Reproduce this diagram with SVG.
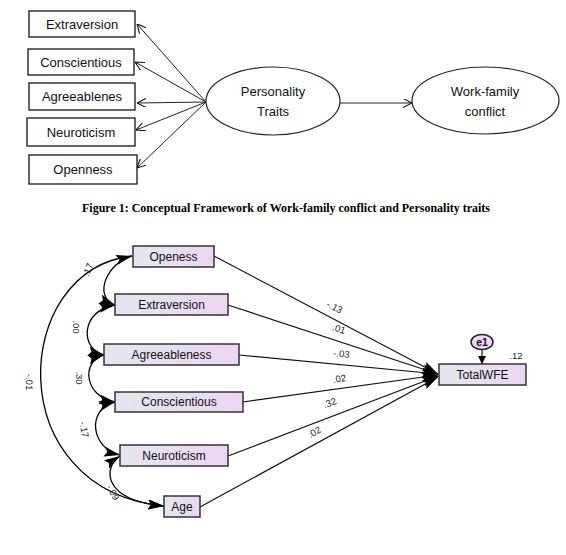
<svg xmlns="http://www.w3.org/2000/svg" width="566" height="555" viewBox="0 0 566 555">
<defs>
<marker id="open" viewBox="0 0 10 10" refX="10" refY="5" markerWidth="9" markerHeight="9" markerUnits="userSpaceOnUse" orient="auto"><path d="M0 0 L10 5 L0 10" fill="none" stroke="#111" stroke-width="1.2"/></marker>
<marker id="solid" viewBox="0 0 16 10" refX="16" refY="5" markerWidth="16" markerHeight="10" markerUnits="userSpaceOnUse" orient="auto-start-reverse"><path d="M0 0 L16 5 L0 10 L3 5 Z" fill="#000"/></marker>
<marker id="small" viewBox="0 0 10 10" refX="10" refY="5" markerWidth="8" markerHeight="9" markerUnits="userSpaceOnUse" orient="auto"><path d="M0 0 L10 5 L0 10 Z" fill="#000"/></marker>
<linearGradient id="g" x1="0" y1="0" x2="1" y2="0"><stop offset="0" stop-color="#e3e7ef"/><stop offset="1" stop-color="#ecd6f0"/></linearGradient>
</defs>
<style>
.box{fill:#fff;stroke:#000;stroke-width:1.2}
.ell{fill:#fff;stroke:#222;stroke-width:1.2}
.t1{font-family:"Liberation Sans",Arial,sans-serif;font-size:13px;fill:#111;text-anchor:middle}
.cap{font-family:"Liberation Serif","Times New Roman",serif;font-size:11.5px;font-weight:bold;fill:#000}
.ln{stroke:#222;stroke-width:1;fill:none}
.abox{fill:url(#g);stroke:#333;stroke-width:1.5}
.t2{font-family:"Liberation Sans",Arial,sans-serif;font-size:12px;fill:#111;text-anchor:middle}
.rl{stroke:#111;stroke-width:1.2;fill:none}
.cv{stroke:#000;stroke-width:1.3;fill:none}
.lb{font-family:"Liberation Sans",Arial,sans-serif;font-size:9.5px;fill:#222;text-anchor:middle}
</style>

<!-- Figure 1 -->
<g id="connectors-top">
<line class="ln" x1="206" y1="102" x2="137" y2="24" marker-end="url(#open)"/>
<line class="ln" x1="206" y1="102" x2="135" y2="62" marker-end="url(#open)"/>
<line class="ln" x1="206" y1="102" x2="137" y2="103" marker-end="url(#open)"/>
<line class="ln" x1="206" y1="102" x2="136" y2="130" marker-end="url(#open)"/>
<line class="ln" x1="206" y1="102" x2="137" y2="168" marker-end="url(#open)"/>
<line class="ln" x1="340" y1="103" x2="412" y2="103" marker-end="url(#open)"/>
</g>
<g id="extraversion1"><rect class="box" x="29" y="11" width="106" height="26"/><text class="t1" x="82" y="29">Extraversion</text></g>
<g id="conscientious1"><rect class="box" x="28" y="49" width="106" height="26"/><text class="t1" x="81" y="67">Conscientious</text></g>
<g id="agreeablenes1"><rect class="box" x="29" y="83" width="106" height="27"/><text class="t1" x="82" y="101">Agreeablenes</text></g>
<g id="neuroticism1"><rect class="box" x="27" y="118" width="108" height="28"/><text class="t1" x="81" y="137">Neuroticism</text></g>
<g id="openness1"><rect class="box" x="29" y="155" width="108" height="29"/><text class="t1" x="83" y="174">Openness</text></g>
<g id="personality"><ellipse class="ell" cx="273" cy="101" rx="67" ry="34"/><text class="t1" x="273" y="96">Personality</text><text class="t1" x="273" y="116">Traits</text></g>
<g id="wfc"><ellipse class="ell" cx="485.5" cy="100.5" rx="73.5" ry="33.5"/><text class="t1" x="485" y="96">Work-family</text><text class="t1" x="485" y="116">conflict</text></g>
<text class="cap" x="82" y="212" textLength="408" lengthAdjust="spacingAndGlyphs">Figure 1: Conceptual Framework of Work-family conflict and Personality traits</text>

<!-- AMOS model -->
<g id="connectors-amos">
<line class="rl" x1="214" y1="256" x2="438" y2="374" marker-end="url(#solid)"/>
<line class="rl" x1="228" y1="305" x2="438" y2="374" marker-end="url(#solid)"/>
<line class="rl" x1="239" y1="355" x2="438" y2="374" marker-end="url(#solid)"/>
<line class="rl" x1="243" y1="402" x2="438" y2="375" marker-end="url(#solid)"/>
<line class="rl" x1="228" y1="456" x2="438" y2="376" marker-end="url(#solid)"/>
<line class="rl" x1="200" y1="507" x2="438" y2="377" marker-end="url(#solid)"/>
<line class="rl" x1="482" y1="350" x2="482" y2="364" marker-end="url(#small)"/>
<path class="cv" d="M132 256 C108 262 92 296 115 305" marker-start="url(#solid)" marker-end="url(#solid)"/>
<path class="cv" d="M115 305 C80 311 80 349 104 355" marker-start="url(#solid)" marker-end="url(#solid)"/>
<path class="cv" d="M104 355 C80 362 85 397 115 402" marker-start="url(#solid)" marker-end="url(#solid)"/>
<path class="cv" d="M115 402 C85 410 92 449 120 455" marker-start="url(#solid)" marker-end="url(#solid)"/>
<path class="cv" d="M120 456 C104 466 100 500 164 506" marker-start="url(#solid)" marker-end="url(#solid)"/>
<path class="cv" d="M132 256 C10 270 0 490 164 506" marker-end="url(#solid)"/>
<text class="lb" transform="translate(333,310) rotate(28)">-.13</text>
<text class="lb" transform="translate(338,332) rotate(18)">.01</text>
<text class="lb" transform="translate(341,357) rotate(6)">-.03</text>
<text class="lb" transform="translate(340,382) rotate(-8)">.02</text>
<text class="lb" transform="translate(331,406) rotate(-21)">.32</text>
<text class="lb" transform="translate(316,435) rotate(-29)">.02</text>
<text class="lb" x="516" y="359">.12</text>
<text class="lb" transform="translate(91,271) rotate(-68)">.17</text>
<text class="lb" transform="translate(73,327) rotate(90)">.00</text>
<text class="lb" transform="translate(76,378) rotate(90)">.30</text>
<text class="lb" transform="translate(81,430) rotate(80)">-.17</text>
<text class="lb" transform="translate(110,494) rotate(60)">-.09</text>
<text class="lb" transform="translate(26,382) rotate(92)">-.01</text>
</g>
<g id="openess"><rect class="abox" x="133" y="246" width="81" height="21"/><text class="t2" x="173.5" y="261">Openess</text></g>
<g id="extraversion"><rect class="abox" x="115" y="294" width="113" height="21"/><text class="t2" x="171.5" y="309">Extraversion</text></g>
<g id="agreeableness"><rect class="abox" x="104" y="344" width="135" height="21"/><text class="t2" x="171.5" y="359">Agreeableness</text></g>
<g id="conscientious"><rect class="abox" x="115" y="392" width="128" height="20"/><text class="t2" x="179" y="406">Conscientious</text></g>
<g id="neuroticism"><rect class="abox" x="120" y="445" width="108" height="21"/><text class="t2" x="174" y="460">Neuroticism</text></g>
<g id="age"><rect class="abox" x="164" y="496" width="36" height="21"/><text class="t2" x="182" y="511">Age</text></g>
<g id="totalwfe"><rect class="abox" x="439" y="364" width="87" height="21"/><text class="t2" x="482.5" y="379">TotalWFE</text></g>
<g id="e1"><ellipse cx="482" cy="342" rx="11" ry="7.5" fill="#ecd6f0" stroke="#222" stroke-width="1.5"/><text class="t2" x="482" y="346" style="font-size:10.5px;font-weight:bold">e1</text></g>
</svg>
